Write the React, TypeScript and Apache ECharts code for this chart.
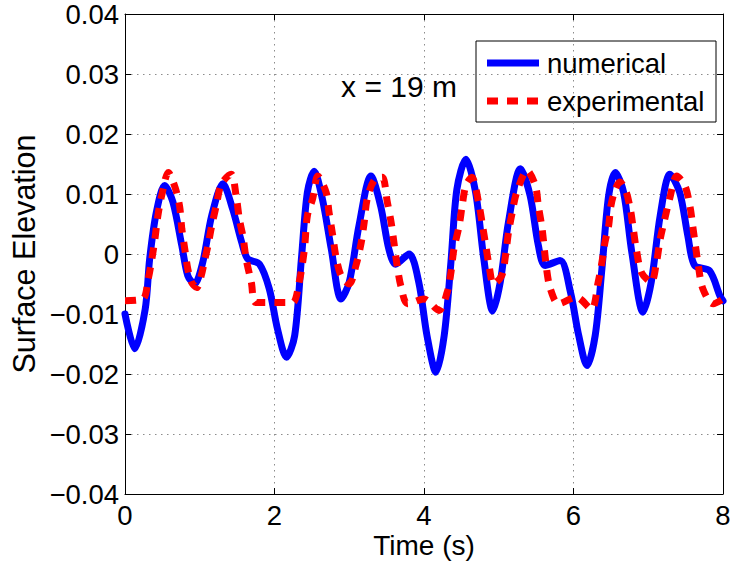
import React, { useEffect, useRef } from "react";
import * as echarts from "echarts";

const xTicks = { min: 0, max: 8, interval: 2 };
const yTicks = { min: -0.04, max: 0.04, interval: 0.01 };

const numerical: [number, number][] = [
  [0, -0.01], [0.13, -0.0158], [0.27, -0.0092], [0.33, -0.0008], [0.42, 0.007], [0.53, 0.0114],
  [0.64, 0.0087], [0.76, 0.0014], [0.84, -0.0036], [0.93, -0.005], [1.04, -0.0014], [1.16, 0.0064],
  [1.31, 0.0117], [1.44, 0.0075], [1.56, 0.002], [1.64, -0.0008], [1.8, -0.0017], [1.93, -0.0058],
  [2.04, -0.0125], [2.16, -0.0172], [2.27, -0.0136], [2.36, -0.0008], [2.44, 0.0103], [2.53, 0.0138],
  [2.64, 0.0092], [2.76, 0.0008], [2.89, -0.0075], [3.0, -0.0047], [3.13, 0.0047], [3.29, 0.013],
  [3.42, 0.008], [3.53, 0.0008], [3.62, -0.0017], [3.8, 0.0], [3.93, -0.0047], [4.04, -0.0136],
  [4.16, -0.0197], [4.27, -0.0136], [4.36, -0.0014], [4.44, 0.0108], [4.56, 0.0158], [4.69, 0.0103],
  [4.8, -0.0008], [4.92, -0.0095], [5.02, -0.0047], [5.13, 0.0053], [5.29, 0.0142], [5.42, 0.0097],
  [5.53, 0.0014], [5.62, -0.0019], [5.82, -0.0011], [5.96, -0.0064], [6.07, -0.0136], [6.18, -0.0186],
  [6.29, -0.0136], [6.38, -0.0025], [6.47, 0.0097], [6.56, 0.0136], [6.67, 0.0103], [6.78, 0.0003],
  [6.93, -0.0097], [7.04, -0.0047], [7.16, 0.0064], [7.29, 0.0133], [7.42, 0.0103], [7.53, 0.003],
  [7.62, -0.0019], [7.82, -0.0028], [7.96, -0.007], [8, -0.0078],
];

const experimental: [number, number][] = [
  [0, -0.0078], [0.24, -0.0075], [0.31, -0.0042], [0.36, -0.0008], [0.4, 0.0025], [0.44, 0.0064],
  [0.49, 0.0097], [0.58, 0.0136], [0.67, 0.0111], [0.73, 0.008], [0.76, 0.0042], [0.8, 0.0008],
  [0.84, -0.0025], [0.89, -0.0047], [0.96, -0.0056], [1.02, -0.0036], [1.07, -0.0008], [1.11, 0.0014],
  [1.16, 0.0047], [1.22, 0.008], [1.29, 0.0117], [1.42, 0.0133], [1.49, 0.0094], [1.53, 0.0058],
  [1.58, 0.0028], [1.62, -0.0008], [1.69, -0.0047], [1.75, -0.0081], [2.02, -0.0081], [2.24, -0.0081],
  [2.33, -0.0047], [2.4, 0.0008], [2.44, 0.0064], [2.51, 0.0092], [2.58, 0.013], [2.69, 0.0103],
  [2.73, 0.0069], [2.78, 0.003], [2.82, -0.0003], [2.89, -0.0036], [3.0, -0.005], [3.09, -0.0019],
  [3.16, 0.0019], [3.2, 0.0053], [3.24, 0.0092], [3.33, 0.0122], [3.44, 0.0128], [3.51, 0.0086],
  [3.56, 0.0053], [3.6, 0.0017], [3.64, -0.0019], [3.69, -0.0053], [3.78, -0.0083], [4.0, -0.0075],
  [4.2, -0.0094], [4.31, -0.0064], [4.36, -0.0031], [4.4, 0.0008], [4.47, 0.0047], [4.51, 0.008],
  [4.56, 0.0114], [4.64, 0.0128], [4.73, 0.0086], [4.78, 0.005], [4.82, 0.0019], [4.87, -0.0019],
  [4.93, -0.005], [5.04, -0.0036], [5.09, -0.0003], [5.13, 0.0036], [5.18, 0.0069], [5.24, 0.0103],
  [5.38, 0.0139], [5.49, 0.0114], [5.53, 0.008], [5.58, 0.0042], [5.64, -0.0025], [5.69, -0.0058],
  [5.8, -0.0083], [6.04, -0.0072], [6.24, -0.0092], [6.33, -0.0047], [6.38, -0.0014], [6.42, 0.0019],
  [6.47, 0.0047], [6.5, 0.008], [6.56, 0.0108], [6.62, 0.012], [6.7, 0.0105], [6.76, 0.0075],
  [6.8, 0.0042], [6.84, 0.0008], [6.91, -0.0031], [7.04, -0.0047], [7.11, -0.0014], [7.16, 0.0025],
  [7.22, 0.0058], [7.29, 0.0094], [7.38, 0.013], [7.49, 0.0114], [7.56, 0.0078], [7.6, 0.0042],
  [7.67, -0.0019], [7.73, -0.0058], [7.87, -0.0083], [8, -0.0075],
];

const seriesNames = ["numerical", "experimental"];
const annotation = "x = 19 m";
const xName = "Time (s)";
const yName = "Surface Elevation";

const FONT = "'Liberation Sans', Arial, Helvetica, sans-serif";
const FS = 27.5;

const fmtY = (v: number) => {
  if (Math.abs(v) < 1e-9) return "0";
  const s = Math.abs(v).toFixed(2);
  return v < 0 ? "\u2212" + s : s;
};

export default function App() {
  const ref = useRef<HTMLDivElement>(null);
  useEffect(() => {
    if (!ref.current) return;
    const chart = echarts.init(ref.current, undefined, { renderer: "svg" });
    const gridStyle = { color: "#8c8c8c", width: 1, type: [1.5, 4.5] as any };
    const tick = { show: true, inside: true, length: 6, lineStyle: { color: "#000", width: 1 } };
    chart.setOption({
      animation: false,
      backgroundColor: "#fff",
      textStyle: { fontFamily: FONT },
      grid: { left: 125, right: 7, top: 14, bottom: 72, containLabel: false, outerBoundsMode: "none" },
      xAxis: [
        {
          type: "value", ...xTicks, position: "bottom",
          name: xName, nameLocation: "middle", nameGap: 37, nameMoveOverlap: false,
          nameTextStyle: { fontSize: 28, color: "#000", fontFamily: FONT },
          axisLine: { show: true, onZero: false, lineStyle: { color: "#000", width: 1 } },
          axisTick: tick,
          axisLabel: { fontSize: FS, color: "#000", margin: 7, fontFamily: FONT },
          splitLine: { show: true, lineStyle: gridStyle },
        },
        {
          type: "value", ...xTicks, position: "top",
          axisLine: { show: true, onZero: false, lineStyle: { color: "#000", width: 1 } },
          axisTick: tick, axisLabel: { show: false }, splitLine: { show: false },
        },
      ],
      yAxis: [
        {
          type: "value", ...yTicks, position: "left",
          name: yName, nameLocation: "middle", nameGap: 86, nameMoveOverlap: false,
          nameTextStyle: { fontSize: 30.5, color: "#000", fontFamily: FONT },
          axisLine: { show: true, onZero: false, lineStyle: { color: "#000", width: 1 } },
          axisTick: tick,
          axisLabel: { fontSize: FS, color: "#000", margin: 6, formatter: fmtY, fontFamily: FONT },
          splitLine: { show: true, lineStyle: gridStyle },
        },
        {
          type: "value", ...yTicks, position: "right",
          axisLine: { show: true, onZero: false, lineStyle: { color: "#000", width: 1 } },
          axisTick: tick, axisLabel: { show: false }, splitLine: { show: false },
        },
      ],
      series: [
        {
          name: seriesNames[0], type: "line", data: numerical, xAxisIndex: 0, yAxisIndex: 0,
          showSymbol: false, symbol: "none", smooth: 0.3,
          lineStyle: { color: "#0000ff", width: 7, cap: "round", join: "round" },
          z: 2,
        },
        {
          name: seriesNames[1], type: "line", data: experimental, xAxisIndex: 0, yAxisIndex: 0,
          showSymbol: false, symbol: "none", smooth: 0.3,
          lineStyle: { color: "#ff0000", width: 7, type: [11, 9], cap: "butt" },
          z: 3,
        },
      ],
      graphic: [
        {
          type: "text", x: 399, y: 86, z: 10,
          style: { text: annotation, fontSize: 30, fontFamily: FONT, fill: "#000", align: "center", verticalAlign: "middle" },
        },
        {
          type: "group", z: 20,
          children: [
            { type: "rect", shape: { x: 476, y: 41, width: 240, height: 81 }, style: { fill: "#fff", stroke: "#000", lineWidth: 1 } },
            { type: "line", shape: { x1: 487, y1: 63, x2: 539, y2: 63 }, style: { stroke: "#0000ff", lineWidth: 7 } },
            { type: "line", shape: { x1: 487, y1: 101, x2: 539, y2: 101 }, style: { stroke: "#ff0000", lineWidth: 7, lineDash: [11, 9] } },
            { type: "text", x: 547, y: 63, style: { text: seriesNames[0], fontSize: FS, fontFamily: FONT, fill: "#000", verticalAlign: "middle" } },
            { type: "text", x: 547, y: 101, style: { text: seriesNames[1], fontSize: FS, fontFamily: FONT, fill: "#000", verticalAlign: "middle" } },
          ],
        },
      ],
    });
    return () => chart.dispose();
  }, []);
  return <div ref={ref} style={{ width: 730, height: 566, position: "absolute", left: 0, top: 0 }} />;
}
